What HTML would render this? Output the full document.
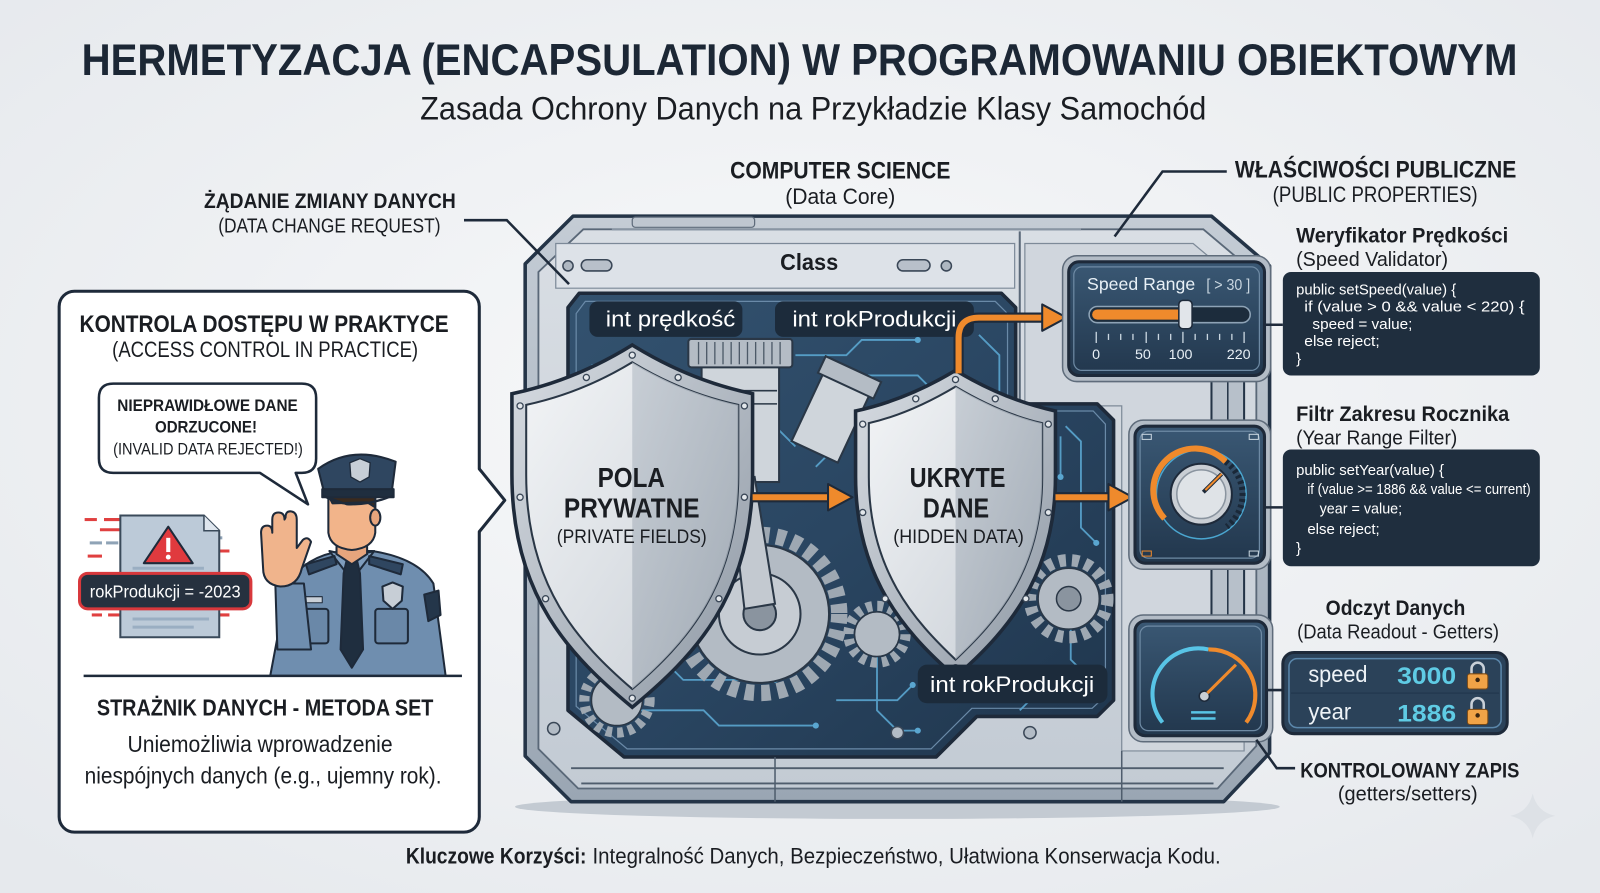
<!DOCTYPE html>
<html>
<head>
<meta charset="utf-8">
<style>
html,body{margin:0;padding:0;background:#eef0f3;}
body{width:1600px;height:893px;overflow:hidden;}
svg{display:block;}
text{font-family:"Liberation Sans Narrow","Liberation Sans","DejaVu Sans",sans-serif;}
.b{font-weight:bold;}
</style>
</head>
<body>
<svg width="1600" height="893" viewBox="0 0 1569 880" preserveAspectRatio="none" xmlns="http://www.w3.org/2000/svg">
<defs>
  <radialGradient id="bg" cx="50%" cy="45%" r="70%">
    <stop offset="0" stop-color="#f8f9fa"/>
    <stop offset="1" stop-color="#e6e9ed"/>
  </radialGradient>
  <linearGradient id="dark" x1="0" y1="0" x2="1" y2="1">
    <stop offset="0" stop-color="#33526f"/>
    <stop offset="0.5" stop-color="#2a4662"/>
    <stop offset="1" stop-color="#1f354c"/>
  </linearGradient>
  <linearGradient id="panel" x1="0" y1="0" x2="0" y2="1">
    <stop offset="0" stop-color="#3a5874"/>
    <stop offset="1" stop-color="#22374d"/>
  </linearGradient>
  <linearGradient id="shL" x1="0" y1="0" x2="1" y2="1">
    <stop offset="0" stop-color="#f2f4f6"/>
    <stop offset="1" stop-color="#c9cfd6"/>
  </linearGradient>
  <linearGradient id="shR" x1="0" y1="0" x2="1" y2="1">
    <stop offset="0" stop-color="#c2c9d1"/>
    <stop offset="1" stop-color="#9aa4af"/>
  </linearGradient>
  <linearGradient id="rim" x1="0" y1="0" x2="1" y2="1">
    <stop offset="0" stop-color="#d7dce2"/>
    <stop offset="1" stop-color="#8e98a4"/>
  </linearGradient>
  <linearGradient id="frame" x1="0" y1="0" x2="0" y2="1">
    <stop offset="0" stop-color="#c4ccd5"/>
    <stop offset="1" stop-color="#9aa6b3"/>
  </linearGradient>
  <linearGradient id="inner" x1="0" y1="0" x2="0" y2="1">
    <stop offset="0" stop-color="#d9dee4"/>
    <stop offset="1" stop-color="#c3cbd4"/>
  </linearGradient>
</defs>

<rect x="0" y="0" width="1569" height="880" fill="url(#bg)"/>

<!-- ===== TITLES ===== -->
<text x="80" y="74" class="b" font-size="44" fill="#1c2735" textLength="1408" lengthAdjust="spacingAndGlyphs">HERMETYZACJA (ENCAPSULATION) W PROGRAMOWANIU OBIEKTOWYM</text>
<text x="412" y="118" font-size="32" fill="#1a1d22" textLength="771" lengthAdjust="spacingAndGlyphs">Zasada Ochrony Danych na Przykładzie Klasy Samochód</text>

<text x="716" y="176" class="b" font-size="24" fill="#1a1d22" textLength="216" lengthAdjust="spacingAndGlyphs">COMPUTER SCIENCE</text>
<text x="770" y="201" font-size="22" fill="#1a1d22" textLength="108" lengthAdjust="spacingAndGlyphs">(Data Core)</text>

<text x="200" y="205" class="b" font-size="21" fill="#1a1d22" textLength="247" lengthAdjust="spacingAndGlyphs">ŻĄDANIE ZMIANY DANYCH</text>
<text x="214" y="229" font-size="20" fill="#1a1d22" textLength="218" lengthAdjust="spacingAndGlyphs">(DATA CHANGE REQUEST)</text>

<text x="1211" y="175" class="b" font-size="24" fill="#1a1d22" textLength="276" lengthAdjust="spacingAndGlyphs">WŁAŚCIWOŚCI PUBLICZNE</text>
<text x="1248" y="199" font-size="22" fill="#1a1d22" textLength="201" lengthAdjust="spacingAndGlyphs">(PUBLIC PROPERTIES)</text>

<!-- ===== MACHINE ===== -->
<ellipse cx="880" cy="795" rx="375" ry="12" fill="#c3cad2"/>
<polygon points="562,213 1188,213 1245,262 1245,742 1200,790 560,790 515,745 515,260" fill="url(#frame)" stroke="#243447" stroke-width="3.5" stroke-linejoin="round"/>
<polygon points="572,226 1180,226 1232,270 1232,735 1194,777 567,777 528,738 528,268" fill="url(#inner)" stroke="#5a6878" stroke-width="1.8"/>
<!-- header band -->
<polygon points="545,240 995,240 995,284 545,284" fill="#dde2e8" stroke="#7c8998" stroke-width="1.2"/>
<line x1="1000" y1="228" x2="1000" y2="400" stroke="#5a6878" stroke-width="2"/>
<line x1="600" y1="226" x2="1060" y2="226" stroke="#8995a3" stroke-width="2"/>
<rect x="620" y="214" width="120" height="10" rx="3" fill="#bfc7d0" stroke="#5f6c7b" stroke-width="1.2"/>
<circle cx="557" cy="262" r="5" fill="#aeb7c1" stroke="#3a4757" stroke-width="1.5"/>
<rect x="570" y="256" width="30" height="11" rx="5.5" fill="#b8c0ca" stroke="#3a4757" stroke-width="1.5"/>
<rect x="880" y="256" width="32" height="11" rx="5.5" fill="#b8c0ca" stroke="#3a4757" stroke-width="1.5"/>
<circle cx="928" cy="262" r="5" fill="#aeb7c1" stroke="#3a4757" stroke-width="1.5"/>
<circle cx="1013" cy="258" r="5" fill="#aeb7c1" stroke="#3a4757" stroke-width="1.5"/>
<text x="765" y="266" class="b" font-size="23" fill="#1a1d22" textLength="57" lengthAdjust="spacingAndGlyphs">Class</text>

<!-- right section background -->
<polygon points="1005,240 1170,240 1220,282 1220,740 1100,740 1100,400 1005,400" fill="#d0d6dd" stroke="#7d8a98" stroke-width="1.2"/>

<!-- dark panel -->
<polygon points="568,289 982,289 996,303 996,398 1076,398 1092,414 1092,690 1076,706 958,706 918,746 612,746 557,700 557,303" fill="url(#dark)" stroke="#1e2a3a" stroke-width="3.5" stroke-linejoin="round"/>
<polygon points="574,297 976,297 988,309 988,405 1072,405 1084,418 1084,686 1071,698 953,698 913,738 615,738 565,696 565,309" fill="none" stroke="#6a8aa8" stroke-width="1.2"/>

<!-- circuit lines -->
<g stroke="#5aa6d0" stroke-width="1.8" fill="none" opacity="0.9">
  <path d="M580,360 L640,360 L655,375 L655,420"/>
  <path d="M575,400 L600,400 L615,415 L615,450"/>
  <path d="M580,600 L610,600 L625,615 L700,615"/>
  <path d="M590,650 L650,650 L670,670 L760,670"/>
  <path d="M600,700 L690,700 L705,715 L800,715"/>
  <path d="M780,350 L830,350 L845,335 L900,335"/>
  <path d="M850,370 L900,370 L915,385"/>
  <path d="M960,330 L980,350 L980,390"/>
  <path d="M1045,420 L1060,435 L1060,520 L1075,535"/>
  <path d="M1050,600 L1050,650 L1065,665"/>
  <path d="M820,690 L880,690 L895,675"/>
  <path d="M760,380 L760,420 L780,440"/>
  <path d="M1040,430 L1040,470"/>
  <path d="M790,330 L790,300"/>
  <path d="M860,640 L860,700 L880,720 L900,720"/>
  <path d="M1000,700 L1040,660 L1070,660"/>
  <path d="M800,460 L820,440 L820,400"/>
  <path d="M575,550 L595,550 L595,580"/>
</g>
<g fill="#5aa6d0">
  <circle cx="655" cy="420" r="3"/><circle cx="700" cy="615" r="3"/><circle cx="760" cy="670" r="3"/>
  <circle cx="900" cy="335" r="3"/><circle cx="915" cy="385" r="3"/><circle cx="1075" cy="535" r="3"/>
  <circle cx="1040" cy="470" r="3"/><circle cx="800" cy="715" r="3"/><circle cx="895" cy="675" r="3"/>
  <circle cx="615" cy="450" r="3"/><circle cx="900" cy="720" r="3"/><circle cx="595" cy="580" r="3"/>
</g>

<!-- engine: piston -->
<rect x="688" y="360" width="76" height="115" fill="#cfd5db" stroke="#2a3746" stroke-width="2"/>
<rect x="675" y="334" width="102" height="28" rx="3" fill="#b4bcc5" stroke="#2a3746" stroke-width="2"/>
<g stroke="#4d5a68" stroke-width="1.3">
  <line x1="685" y1="337" x2="685" y2="359"/><line x1="693" y1="337" x2="693" y2="359"/><line x1="701" y1="337" x2="701" y2="359"/>
  <line x1="709" y1="337" x2="709" y2="359"/><line x1="717" y1="337" x2="717" y2="359"/><line x1="725" y1="337" x2="725" y2="359"/>
  <line x1="733" y1="337" x2="733" y2="359"/><line x1="741" y1="337" x2="741" y2="359"/><line x1="749" y1="337" x2="749" y2="359"/>
  <line x1="757" y1="337" x2="757" y2="359"/><line x1="765" y1="337" x2="765" y2="359"/>
</g>
<line x1="690" y1="385" x2="762" y2="385" stroke="#2a3746" stroke-width="1.5"/>
<line x1="690" y1="398" x2="762" y2="398" stroke="#2a3746" stroke-width="1.5"/>
<!-- second piston angled -->
<g transform="rotate(25 820 400)">
  <rect x="795" y="360" width="50" height="90" fill="#cfd5db" stroke="#2a3746" stroke-width="2"/>
  <rect x="790" y="360" width="60" height="18" fill="#b4bcc5" stroke="#2a3746" stroke-width="2"/>
</g>
<!-- gears -->
<circle cx="745" cy="605" r="78" fill="none" stroke="#9ea8b2" stroke-width="16" stroke-dasharray="9 7"/>
<circle cx="745" cy="605" r="68" fill="#b3bbc4" stroke="#2a3746" stroke-width="2"/>
<circle cx="745" cy="605" r="40" fill="#c6ccd3" stroke="#2a3746" stroke-width="2"/>
<circle cx="745" cy="605" r="16" fill="#8a949f" stroke="#2a3746" stroke-width="2"/>
<polygon points="715,470 740,470 760,595 730,600" fill="#c3c9d0" stroke="#2a3746" stroke-width="2"/>
<circle cx="860" cy="625" r="28" fill="none" stroke="#9ea8b2" stroke-width="10" stroke-dasharray="6 5"/>
<circle cx="860" cy="625" r="22" fill="#b3bbc4" stroke="#2a3746" stroke-width="1.5"/>
<circle cx="1048" cy="590" r="38" fill="none" stroke="#9ea8b2" stroke-width="12" stroke-dasharray="7 6"/>
<circle cx="1048" cy="590" r="30" fill="#b3bbc4" stroke="#2a3746" stroke-width="1.5"/>
<circle cx="1048" cy="590" r="12" fill="#8a949f" stroke="#2a3746" stroke-width="1.5"/>
<circle cx="605" cy="690" r="32" fill="none" stroke="#9ea8b2" stroke-width="10" stroke-dasharray="6 5"/>
<circle cx="605" cy="690" r="25" fill="#b3bbc4" stroke="#2a3746" stroke-width="1.5"/>

<!-- label pills -->
<rect x="578" y="297" width="150" height="35" rx="8" fill="#1c2b3b"/>
<text x="594" y="322" font-size="22" fill="#ffffff" textLength="127" lengthAdjust="spacingAndGlyphs">int prędkość</text>
<rect x="760" y="297" width="195" height="35" rx="8" fill="#1c2b3b"/>
<text x="777" y="322" font-size="22" fill="#ffffff" textLength="161" lengthAdjust="spacingAndGlyphs">int rokProdukcji</text>

<!-- SHIELD 1 -->
<path d="M620,340 C660,365 700,380 738,388 L738,468 C738,588 680,647 620,697 C560,647 502,588 502,468 L502,388 C540,380 580,365 620,340 Z" fill="url(#rim)" stroke="#1e2a3a" stroke-width="3.5"/>
<path d="M620,357 C656,379 692,392 724,399 L724,468 C724,578 672,634 620,679 C568,634 516,578 516,468 L516,399 C548,392 584,379 620,357 Z" fill="url(#shL)" stroke="#2a3746" stroke-width="2"/>
<path d="M620,357 C656,379 692,392 724,399 L724,468 C724,578 672,634 620,679 Z" fill="url(#shR)" opacity="0.85"/>
<g fill="#e3e7eb" stroke="#3a4757" stroke-width="1.3">
  <circle cx="620" cy="350" r="3"/><circle cx="575" cy="372" r="3"/><circle cx="665" cy="372" r="3"/>
  <circle cx="510" cy="400" r="3"/><circle cx="730" cy="400" r="3"/><circle cx="510" cy="490" r="3"/><circle cx="730" cy="490" r="3"/>
  <circle cx="535" cy="590" r="3"/><circle cx="705" cy="590" r="3"/><circle cx="620" cy="688" r="3"/>
</g>
<text x="586" y="480" class="b" font-size="27" fill="#1a1d22" textLength="66" lengthAdjust="spacingAndGlyphs">POLA</text>
<text x="553" y="510" class="b" font-size="27" fill="#1a1d22" textLength="133" lengthAdjust="spacingAndGlyphs">PRYWATNE</text>
<text x="546" y="535" font-size="19" fill="#1a1d22" textLength="147" lengthAdjust="spacingAndGlyphs">(PRIVATE FIELDS)</text>

<!-- SHIELD 2 -->
<path d="M937,365 C970,385 1003,398 1035,405 L1035,470 C1035,570 985,625 937,667 C889,625 839,570 839,470 L839,405 C871,398 904,385 937,365 Z" fill="url(#rim)" stroke="#1e2a3a" stroke-width="3.5"/>
<path d="M937,381 C967,399 996,411 1022,417 L1022,470 C1022,562 977,612 937,650 C897,612 852,562 852,470 L852,417 C878,411 907,399 937,381 Z" fill="url(#shL)" stroke="#2a3746" stroke-width="2"/>
<path d="M937,381 C967,399 996,411 1022,417 L1022,470 C1022,562 977,612 937,650 Z" fill="url(#shR)" opacity="0.85"/>
<g fill="#e3e7eb" stroke="#3a4757" stroke-width="1.3">
  <circle cx="937" cy="374" r="3"/><circle cx="898" cy="393" r="3"/><circle cx="976" cy="393" r="3"/>
  <circle cx="846" cy="418" r="3"/><circle cx="1028" cy="418" r="3"/><circle cx="846" cy="505" r="3"/><circle cx="1028" cy="505" r="3"/>
  <circle cx="868" cy="590" r="3"/><circle cx="1006" cy="590" r="3"/><circle cx="937" cy="658" r="3"/>
</g>
<text x="892" y="480" class="b" font-size="27" fill="#1a1d22" textLength="94" lengthAdjust="spacingAndGlyphs">UKRYTE</text>
<text x="905" y="510" class="b" font-size="27" fill="#1a1d22" textLength="65" lengthAdjust="spacingAndGlyphs">DANE</text>
<text x="876" y="535" font-size="19" fill="#1a1d22" textLength="128" lengthAdjust="spacingAndGlyphs">(HIDDEN DATA)</text>

<!-- lower label -->
<rect x="900" y="655" width="186" height="38" rx="9" fill="#1c2b3b"/>
<text x="912" y="682" font-size="22" fill="#ffffff" textLength="161" lengthAdjust="spacingAndGlyphs">int rokProdukcji</text>

<!-- frame bottom details -->
<line x1="560" y1="757" x2="1200" y2="757" stroke="#4f5d6d" stroke-width="1.8"/>
<line x1="570" y1="772" x2="1190" y2="772" stroke="#4f5d6d" stroke-width="1.8"/>
<line x1="760" y1="746" x2="760" y2="790" stroke="#4f5d6d" stroke-width="1.5"/>
<line x1="1100" y1="740" x2="1100" y2="790" stroke="#4f5d6d" stroke-width="1.5"/>
<g fill="#b3bcc6" stroke="#3a4757" stroke-width="1.5">
  <circle cx="543" cy="718" r="6"/><circle cx="880" cy="722" r="6"/><circle cx="1010" cy="722" r="6"/>
</g>

<!-- connectors between side panels -->
<rect x="1188" y="368" width="32" height="55" fill="#b7c0ca" stroke="#243447" stroke-width="2"/>
<line x1="1204" y1="368" x2="1204" y2="423" stroke="#243447" stroke-width="1.5"/>
<rect x="1188" y="553" width="32" height="62" fill="#b7c0ca" stroke="#243447" stroke-width="2"/>
<line x1="1204" y1="553" x2="1204" y2="615" stroke="#243447" stroke-width="1.5"/>

<!-- ARROWS -->
<g stroke-linecap="butt" fill="none">
  <path d="M738,490 L816,490" stroke="#1e2a3a" stroke-width="10"/>
  <path d="M738,490 L816,490" stroke="#ef8a2c" stroke-width="6"/>
  <path d="M1035,490 L1091,490" stroke="#1e2a3a" stroke-width="10"/>
  <path d="M1035,490 L1091,490" stroke="#ef8a2c" stroke-width="6"/>
  <path d="M940,368 L940,333 Q940,313 960,313 L1026,313" stroke="#1e2a3a" stroke-width="10"/>
  <path d="M940,368 L940,333 Q940,313 960,313 L1026,313" stroke="#ef8a2c" stroke-width="6"/>
</g>
<g fill="#ef8a2c" stroke="#1e2a3a" stroke-width="2" stroke-linejoin="round">
  <polygon points="812,477 836,490 812,503"/>
  <polygon points="1087,477 1111,490 1087,503"/>
  <polygon points="1022,300 1046,313 1022,326"/>
</g>

<!-- SPEED PANEL -->
<rect x="1042" y="252" width="204" height="124" rx="14" fill="#b3bcc6" stroke="#5f6c7b" stroke-width="1.5"/>
<rect x="1048" y="258" width="192" height="112" rx="10" fill="url(#panel)" stroke="#1e2a3a" stroke-width="3"/>
<rect x="1053" y="263" width="182" height="102" rx="8" fill="none" stroke="#6e8aa4" stroke-width="1.2"/>
<text x="1066" y="286" font-size="17" fill="#e8f0f6" textLength="106" lengthAdjust="spacingAndGlyphs">Speed  Range</text>
<text x="1183" y="286" font-size="15" fill="#c9d6e0" textLength="43" lengthAdjust="spacingAndGlyphs">[ &gt; 30 ]</text>
<rect x="1068" y="302" width="158" height="16" rx="8" fill="#1c2c3c" stroke="#8ea3b6" stroke-width="1.5"/>
<rect x="1071" y="305" width="90" height="10" rx="5" fill="#ef8a2c"/>
<rect x="1156" y="296" width="13" height="28" rx="4" fill="#e1e5ea" stroke="#1e2a3a" stroke-width="1.5"/>
<g stroke="#c9d6e0" stroke-width="1.3">
  <line x1="1075" y1="327" x2="1075" y2="338"/><line x1="1087" y1="329" x2="1087" y2="335"/><line x1="1099" y1="329" x2="1099" y2="335"/>
  <line x1="1111" y1="329" x2="1111" y2="335"/><line x1="1124" y1="327" x2="1124" y2="338"/><line x1="1136" y1="329" x2="1136" y2="335"/>
  <line x1="1148" y1="329" x2="1148" y2="335"/><line x1="1160" y1="327" x2="1160" y2="338"/><line x1="1172" y1="329" x2="1172" y2="335"/>
  <line x1="1184" y1="329" x2="1184" y2="335"/><line x1="1196" y1="329" x2="1196" y2="335"/><line x1="1208" y1="329" x2="1208" y2="335"/>
  <line x1="1220" y1="327" x2="1220" y2="338"/>
</g>
<text x="1071" y="354" font-size="14" fill="#e8f0f6">0</text>
<text x="1113" y="354" font-size="14" fill="#e8f0f6">50</text>
<text x="1146" y="354" font-size="14" fill="#e8f0f6">100</text>
<text x="1203" y="354" font-size="14" fill="#e8f0f6">220</text>
<line x1="1240" y1="320" x2="1258" y2="320" stroke="#1e2a3a" stroke-width="2.5"/>

<!-- DIAL PANEL -->
<rect x="1107" y="414" width="139" height="147" rx="14" fill="#b3bcc6" stroke="#5f6c7b" stroke-width="1.5"/>
<rect x="1113" y="420" width="127" height="135" rx="10" fill="url(#panel)" stroke="#1e2a3a" stroke-width="3"/>
<rect x="1118" y="425" width="117" height="125" rx="8" fill="none" stroke="#6e8aa4" stroke-width="1.2"/>
<circle cx="1178" cy="487" r="44" fill="none" stroke="#4aa6d0" stroke-width="1.5"/>
<path d="M1142,511 A40,40 0 0 1 1202,455" fill="none" stroke="#ef8a2c" stroke-width="6"/>
<path d="M1202,455 A40,40 0 0 1 1203,519" fill="none" stroke="#1a2838" stroke-width="6" stroke-dasharray="3 3"/>
<circle cx="1178" cy="487" r="30" fill="#c9ced4" stroke="#1e2a3a" stroke-width="2"/>
<circle cx="1178" cy="487" r="24" fill="#dfe3e7" stroke="#8a949f" stroke-width="1.5"/>
<line x1="1180" y1="485" x2="1198" y2="467" stroke="#1e2a3a" stroke-width="4"/>
<line x1="1182" y1="483" x2="1198" y2="467" stroke="#ef8a2c" stroke-width="2"/>
<rect x="1120" y="428" width="9" height="5" fill="none" stroke="#c9d6e0" stroke-width="1"/>
<rect x="1225" y="428" width="9" height="5" fill="none" stroke="#c9d6e0" stroke-width="1"/>
<rect x="1120" y="543" width="9" height="5" fill="none" stroke="#ef8a2c" stroke-width="1"/>
<rect x="1225" y="543" width="9" height="5" fill="none" stroke="#c9d6e0" stroke-width="1"/>
<line x1="1240" y1="500" x2="1258" y2="500" stroke="#1e2a3a" stroke-width="2.5"/>

<!-- GAUGE PANEL -->
<rect x="1107" y="606" width="141" height="125" rx="14" fill="#b3bcc6" stroke="#5f6c7b" stroke-width="1.5"/>
<rect x="1113" y="612" width="129" height="113" rx="10" fill="url(#panel)" stroke="#1e2a3a" stroke-width="3"/>
<rect x="1118" y="617" width="119" height="103" rx="8" fill="none" stroke="#6e8aa4" stroke-width="1.2"/>
<path d="M1140,712 A45,45 0 0 1 1185,640" fill="none" stroke="#58c4e6" stroke-width="4"/>
<path d="M1185,640 A45,45 0 0 1 1222,712" fill="none" stroke="#ef8a2c" stroke-width="4"/>
<circle cx="1181" cy="686" r="5" fill="#c9ced4" stroke="#1e2a3a" stroke-width="1.5"/>
<line x1="1184" y1="683" x2="1212" y2="655" stroke="#ef8a2c" stroke-width="3"/>
<line x1="1168" y1="702" x2="1192" y2="702" stroke="#58c4e6" stroke-width="2.5"/>
<line x1="1168" y1="708" x2="1192" y2="708" stroke="#58c4e6" stroke-width="2.5"/>
<line x1="1242" y1="680" x2="1258" y2="680" stroke="#1e2a3a" stroke-width="2.5"/>

<!-- leaders -->
<polyline points="455,217 497,217 558,280" fill="none" stroke="#1e2a3a" stroke-width="2.5"/>
<polyline points="1203,169 1140,169 1093,233" fill="none" stroke="#1e2a3a" stroke-width="2.5"/>
<polyline points="1270,757 1252,757 1232,729" fill="none" stroke="#1e2a3a" stroke-width="2.5"/>

<!-- ===== RIGHT TEXT & CODE ===== -->
<text x="1271" y="239" class="b" font-size="21" fill="#1a1d22" textLength="208" lengthAdjust="spacingAndGlyphs">Weryfikator Prędkości</text>
<text x="1271" y="262" font-size="20" fill="#1a1d22" textLength="149" lengthAdjust="spacingAndGlyphs">(Speed Validator)</text>
<rect x="1258" y="268" width="252" height="102" rx="8" fill="#1f2e3e"/>
<text x="1271" y="290" font-size="14.5" fill="#ffffff" textLength="157" lengthAdjust="spacingAndGlyphs">public setSpeed(value) {</text>
<text x="1279" y="307" font-size="14.5" fill="#ffffff" textLength="216" lengthAdjust="spacingAndGlyphs">if (value &gt; 0 &amp;&amp; value &lt; 220) {</text>
<text x="1287" y="324" font-size="14.5" fill="#ffffff" textLength="98" lengthAdjust="spacingAndGlyphs">speed = value;</text>
<text x="1279" y="341" font-size="14.5" fill="#ffffff" textLength="74" lengthAdjust="spacingAndGlyphs">else reject;</text>
<text x="1271" y="358" font-size="14.5" fill="#ffffff">}</text>

<text x="1271" y="415" class="b" font-size="21" fill="#1a1d22" textLength="209" lengthAdjust="spacingAndGlyphs">Filtr Zakresu Rocznika</text>
<text x="1271" y="438" font-size="20" fill="#1a1d22" textLength="158" lengthAdjust="spacingAndGlyphs">(Year Range Filter)</text>
<rect x="1258" y="443" width="252" height="115" rx="8" fill="#1f2e3e"/>
<text x="1271" y="468" font-size="14.5" fill="#ffffff" textLength="145" lengthAdjust="spacingAndGlyphs">public setYear(value) {</text>
<text x="1282" y="487" font-size="14.5" fill="#ffffff" textLength="219" lengthAdjust="spacingAndGlyphs">if (value &gt;= 1886 &amp;&amp; value &lt;= current)</text>
<text x="1294" y="506" font-size="14.5" fill="#ffffff" textLength="81" lengthAdjust="spacingAndGlyphs">year = value;</text>
<text x="1282" y="526" font-size="14.5" fill="#ffffff" textLength="71" lengthAdjust="spacingAndGlyphs">else reject;</text>
<text x="1271" y="545" font-size="14.5" fill="#ffffff">}</text>

<text x="1300" y="606" class="b" font-size="21" fill="#1a1d22" textLength="137" lengthAdjust="spacingAndGlyphs">Odczyt Danych</text>
<text x="1272" y="629" font-size="20" fill="#1a1d22" textLength="198" lengthAdjust="spacingAndGlyphs">(Data Readout - Getters)</text>
<rect x="1258" y="643" width="220" height="80" rx="11" fill="#2b4259" stroke="#1e2a3a" stroke-width="3"/>
<rect x="1264" y="649" width="208" height="68" rx="8" fill="none" stroke="#5b87ab" stroke-width="1.5"/>
<line x1="1266" y1="683" x2="1470" y2="683" stroke="#243a50" stroke-width="1.5"/>
<text x="1283" y="672" font-size="23" fill="#eef3f7" textLength="58" lengthAdjust="spacingAndGlyphs">speed</text>
<text x="1370" y="674" class="b" font-size="24" fill="#5fcbe4" textLength="58" lengthAdjust="spacingAndGlyphs">3000</text>
<text x="1283" y="709" font-size="23" fill="#eef3f7" textLength="42" lengthAdjust="spacingAndGlyphs">year</text>
<text x="1370" y="711" class="b" font-size="24" fill="#5fcbe4" textLength="58" lengthAdjust="spacingAndGlyphs">1886</text>
<g>
  <path d="M1443,664 L1443,659 A6,6 0 0 1 1455,659 L1455,664" fill="none" stroke="#c9d0d8" stroke-width="2.5"/>
  <rect x="1439" y="664" width="20" height="15" rx="2.5" fill="#f0a347" stroke="#7a4a15" stroke-width="1"/>
  <circle cx="1449" cy="670" r="2.2" fill="#3a2510"/>
  <path d="M1443,699 L1443,694 A6,6 0 0 1 1455,694 L1455,699" fill="none" stroke="#c9d0d8" stroke-width="2.5"/>
  <rect x="1439" y="699" width="20" height="15" rx="2.5" fill="#f0a347" stroke="#7a4a15" stroke-width="1"/>
  <circle cx="1449" cy="705" r="2.2" fill="#3a2510"/>
</g>

<text x="1275" y="766" class="b" font-size="21" fill="#1a1d22" textLength="215" lengthAdjust="spacingAndGlyphs">KONTROLOWANY ZAPIS</text>
<text x="1312" y="789" font-size="20" fill="#1a1d22" textLength="137" lengthAdjust="spacingAndGlyphs">(getters/setters)</text>

<!-- sparkle -->
<path d="M1503,782 Q1507,800 1525,804 Q1507,808 1503,826 Q1499,808 1481,804 Q1499,800 1503,782 Z" fill="#dde1e6"/>

<!-- bottom -->
<text x="398" y="851" class="b" font-size="22" fill="#1a1d22" textLength="177" lengthAdjust="spacingAndGlyphs">Kluczowe Korzyści:</text>
<text x="581" y="851" font-size="22" fill="#1a1d22" textLength="616" lengthAdjust="spacingAndGlyphs">Integralność Danych, Bezpieczeństwo, Ułatwiona Konserwacja Kodu.</text>

<!-- ===== LEFT PANEL ===== -->
<rect x="58" y="287" width="412" height="533" rx="15" fill="#ffffff" stroke="#1e2a3a" stroke-width="3"/>
<polygon points="468,462 495,493 468,524" fill="#ffffff"/>
<polyline points="470,462 495,493 470,524" fill="none" stroke="#1e2a3a" stroke-width="3" stroke-linejoin="round"/>

<text x="78" y="327" class="b" font-size="24" fill="#1a1d22" textLength="362" lengthAdjust="spacingAndGlyphs">KONTROLA DOSTĘPU W PRAKTYCE</text>
<text x="110" y="352" font-size="22" fill="#1a1d22" textLength="300" lengthAdjust="spacingAndGlyphs">(ACCESS CONTROL IN PRACTICE)</text>

<!-- speech bubble -->
<path d="M111,378 L296,378 Q310,378 310,392 L310,452 Q310,466 296,466 L290,466 L302,497 L255,466 L111,466 Q97,466 97,452 L97,392 Q97,378 111,378 Z" fill="#ffffff" stroke="#1e2a3a" stroke-width="2.5" stroke-linejoin="round"/>
<text x="115" y="405" class="b" font-size="16.5" fill="#1a1d22" textLength="177" lengthAdjust="spacingAndGlyphs">NIEPRAWIDŁOWE DANE</text>
<text x="152" y="426" class="b" font-size="16.5" fill="#1a1d22" textLength="100" lengthAdjust="spacingAndGlyphs">ODRZUCONE!</text>
<text x="111" y="448" font-size="16.5" fill="#1a1d22" textLength="186" lengthAdjust="spacingAndGlyphs">(INVALID DATA REJECTED!)</text>

<!-- document -->
<g>
  <g stroke="#e04040" stroke-width="3">
    <line x1="83" y1="512" x2="95" y2="512"/><line x1="102" y1="512" x2="130" y2="512"/>
    <line x1="98" y1="522" x2="128" y2="522"/><line x1="86" y1="548" x2="100" y2="548"/>
    <line x1="90" y1="606" x2="100" y2="606"/><line x1="106" y1="606" x2="120" y2="606"/>
    <line x1="190" y1="543" x2="225" y2="543"/><line x1="190" y1="606" x2="225" y2="606"/>
  </g>
  <g stroke="#8fa3b6" stroke-width="3">
    <line x1="88" y1="535" x2="100" y2="535"/><line x1="104" y1="535" x2="116" y2="535"/>
    <line x1="195" y1="530" x2="205" y2="530"/><line x1="209" y1="530" x2="218" y2="530"/>
  </g>
  <path d="M118,508 L200,508 L215,523 L215,628 L118,628 Z" fill="#bccad8" stroke="#3a4a5a" stroke-width="2"/>
  <path d="M200,508 L200,523 L215,523" fill="#dfe6ee" stroke="#3a4a5a" stroke-width="1.5"/>
  <g stroke="#9aaec2" stroke-width="3">
    <line x1="130" y1="560" x2="200" y2="560"/><line x1="130" y1="610" x2="205" y2="610"/><line x1="130" y1="618" x2="190" y2="618"/>
  </g>
  <polygon points="165,519 141,555 189,555" fill="#e03a3e" stroke="#1e2a3a" stroke-width="2" stroke-linejoin="round"/>
  <rect x="163" y="530" width="4" height="14" fill="#ffffff"/>
  <circle cx="165" cy="549" r="2.4" fill="#ffffff"/>
</g>
<rect x="78" y="565" width="168" height="35" rx="8" fill="#26313f" stroke="#d8383c" stroke-width="3"/>
<text x="88" y="589" font-size="17" fill="#ffffff" textLength="148" lengthAdjust="spacingAndGlyphs">rokProdukcji = -2023</text>

<!-- policeman -->
<g stroke="#1e2a3a" stroke-width="2" stroke-linejoin="round">
  <path d="M282,575 Q300,548 335,543 L365,543 Q410,550 425,575 L437,666 L265,666 Z" fill="#6f8eaf"/>
  <path d="M323,543 L340,565 L345,548 Z" fill="#7f9dbd"/>
  <path d="M367,543 L350,565 L345,548 Z" fill="#7f9dbd"/>
  <path d="M340,552 L350,552 L353,565 L356,640 L345,658 L334,640 L337,565 Z" fill="#1f2e3f"/>
  <path d="M330,528 L360,528 L360,546 L345,556 L330,546 Z" fill="#e7a57d"/>
  <path d="M300,556 L328,548 L330,556 L303,566 Z" fill="#2f4660"/>
  <path d="M362,548 L395,556 L393,566 L362,556 Z" fill="#2f4660"/>
  <rect x="292" y="600" width="30" height="34" rx="3" fill="#6a88a8"/>
  <rect x="368" y="600" width="32" height="34" rx="3" fill="#6a88a8"/>
  <rect x="298" y="588" width="18" height="6" fill="#c9d0d8" stroke-width="1"/>
  <path d="M375,578 L385,574 L395,578 L394,592 L385,600 L376,592 Z" fill="#c7ced6"/>
  <path d="M416,586 L430,582 L432,606 L420,612 Z" fill="#24364a"/>
  <path d="M270,575 L298,575 L305,640 L272,640 Z" fill="#6f8eaf"/>
  <path d="M258,560 L256,525 Q256,518 262,518 Q267,518 267,525 L267,512 Q267,505 273,505 Q279,505 279,512 L280,510 Q280,503 286,504 Q291,505 291,512 L291,540 L297,532 Q302,528 305,534 L296,560 Q292,578 275,578 Q258,576 258,560 Z" fill="#f0b48c"/>
  <path d="M322,488 L368,488 L368,525 Q366,540 345,542 Q324,540 322,525 Z" fill="#f2b48a"/>
  <ellipse cx="368" cy="510" rx="5" ry="8" fill="#e7a57d"/>
  <path d="M322,488 L368,488 L368,500 L360,495 L326,496 Z" fill="#3a2a1e"/>
  <path d="M312,462 Q345,438 388,455 L384,486 L318,486 Z" fill="#2f4660"/>
  <path d="M316,482 L386,482 L386,490 L316,490 Z" fill="#1f2e3f"/>
  <path d="M318,489 Q345,505 384,489 Q360,498 340,497 Z" fill="#1a2636"/>
  <path d="M343,456 L353,452 L363,456 L362,470 L353,475 L344,470 Z" fill="#c7ced6" stroke-width="1.3"/>
</g>

<line x1="82" y1="666" x2="453" y2="666" stroke="#1e2a3a" stroke-width="2.5"/>
<text x="95" y="705" class="b" font-size="23" fill="#1a1d22" textLength="330" lengthAdjust="spacingAndGlyphs">STRAŻNIK DANYCH - METODA SET</text>
<text x="125" y="741" font-size="23" fill="#1a1d22" textLength="260" lengthAdjust="spacingAndGlyphs">Uniemożliwia wprowadzenie</text>
<text x="83" y="772" font-size="23" fill="#1a1d22" textLength="350" lengthAdjust="spacingAndGlyphs">niespójnych danych (e.g., ujemny rok).</text>

</svg>
</body>
</html>
